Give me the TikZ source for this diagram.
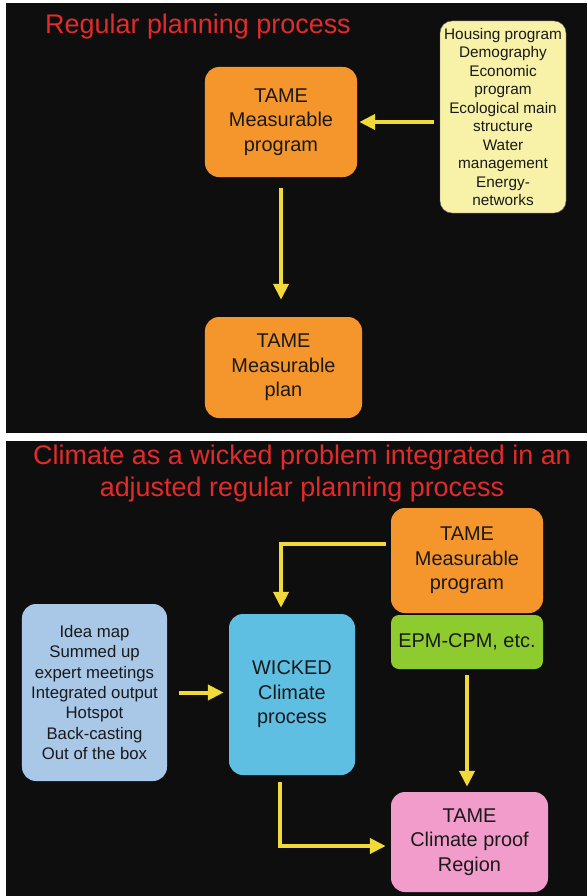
\documentclass[tikz,border=0pt]{standalone}
\usepackage{fontspec}
\setmainfont{Liberation Sans}
\usetikzlibrary{positioning,arrows.meta}
\definecolor{slide}{HTML}{0E0E0E}
\definecolor{ttl}{HTML}{E22B2B}
\definecolor{tame}{HTML}{F5962D}
\definecolor{inp}{HTML}{F8F2A8}
\definecolor{epm}{HTML}{8DCB2F}
\definecolor{idea}{HTML}{A9C8E8}
\definecolor{wkd}{HTML}{5FBFE2}
\definecolor{reg}{HTML}{F29CCB}
\definecolor{flow}{HTML}{F2D93A}

\begin{document}
\begin{tikzpicture}[x=0.03cm,y=-0.03cm,
      every node/.style={text=black!90},
      ttlnode/.style={text=ttl,align=center,inner sep=0pt,font=\fontsize{23}{27.3}\selectfont},
      bigbox/.style={rounded corners=0.42cm,align=center,inner sep=0pt,font=\fontsize{17}{20.9}\selectfont},
      listbox/.style={rounded corners=0.36cm,align=center,inner sep=0pt},
      flowline/.style={draw=flow,line width=0.12cm,-{Triangle[length=0.48cm,width=0.45cm]}}]
    % page and the two slides
    \fill[white] (0,0) rectangle (587,896);
    \fill[slide] (6,3) rectangle (587,433);
    \fill[slide] (6,441) rectangle (587,896);
    % Top slide
    \node[ttlnode] (title1) at (198,27) {Regular planning process};
    \node[bigbox,fill=tame,minimum width=4.56cm,minimum height=3.30cm] (prog) at (281,122) {TAME\\Measurable\\program};
    \node[bigbox,fill=tame,minimum width=4.71cm,minimum height=3.03cm] (plan) at (283.5,367.5) {TAME\\Measurable\\plan};
    \node[listbox,fill=inp,draw=black!60,thin,minimum width=3.78cm,minimum height=5.76cm,
          font=\fontsize{13.1}{15.8}\selectfont] (inputs) at (503,117)
          {Housing program\\Demography\\Economic\\program\\Ecological main\\structure\\Water\\management\\Energy-\\networks};
    \draw[flowline,shorten <=0.18cm,shorten >=0.06cm] (inputs.west |- prog.east) -- (prog.east);
    \draw[flowline,shorten <=0.33cm,shorten >=0.51cm] (prog.south) -- (prog.south |- plan.north);
    % Bottom slide
    \node[ttlnode] (title2) at (302,474) {Climate as a wicked problem integrated in an\\adjusted regular planning process};
    \node[bigbox,fill=tame,minimum width=4.56cm,minimum height=3.15cm] (prog2) at (467,560.5) {TAME\\Measurable\\program};
    \node[bigbox,fill=epm,rounded corners=0.24cm,minimum width=4.56cm,minimum height=1.62cm] (epmcpm) at (467,642) {EPM-CPM, etc.};
    \node[listbox,fill=idea,rounded corners=0.42cm,minimum width=4.35cm,minimum height=5.31cm,
          font=\fontsize{14.3}{17.3}\selectfont] (ideas) at (94.5,692.5)
          {Idea map\\Summed up\\expert meetings\\Integrated output\\Hotspot\\Back-casting\\Out of the box};
    \node[bigbox,fill=wkd,minimum width=3.78cm,minimum height=4.83cm] (wicked) at (292,694.5) {WICKED\\Climate\\process};
    \node[bigbox,fill=reg,minimum width=4.71cm,minimum height=3.00cm] (region) at (469.5,842) {TAME\\Climate proof\\Region};
    % connectors
    \draw[flowline,shorten <=0.15cm,shorten >=0.18cm] ([yshift=0.51cm]prog2.west) -| ([xshift=-0.33cm]wicked.north);
    \draw[flowline,shorten <=0.36cm,shorten >=0.15cm] (ideas.east) -- (ideas.east -| wicked.west);
    \draw[flowline,shorten <=0.18cm,shorten >=0.15cm] (epmcpm.south) -- (epmcpm.south |- region.north);
    \draw[flowline,shorten <=0.21cm,shorten >=0.15cm] ([xshift=-0.36cm]wicked.south) |- ([yshift=-0.12cm]region.west);
\end{tikzpicture}
\end{document}
